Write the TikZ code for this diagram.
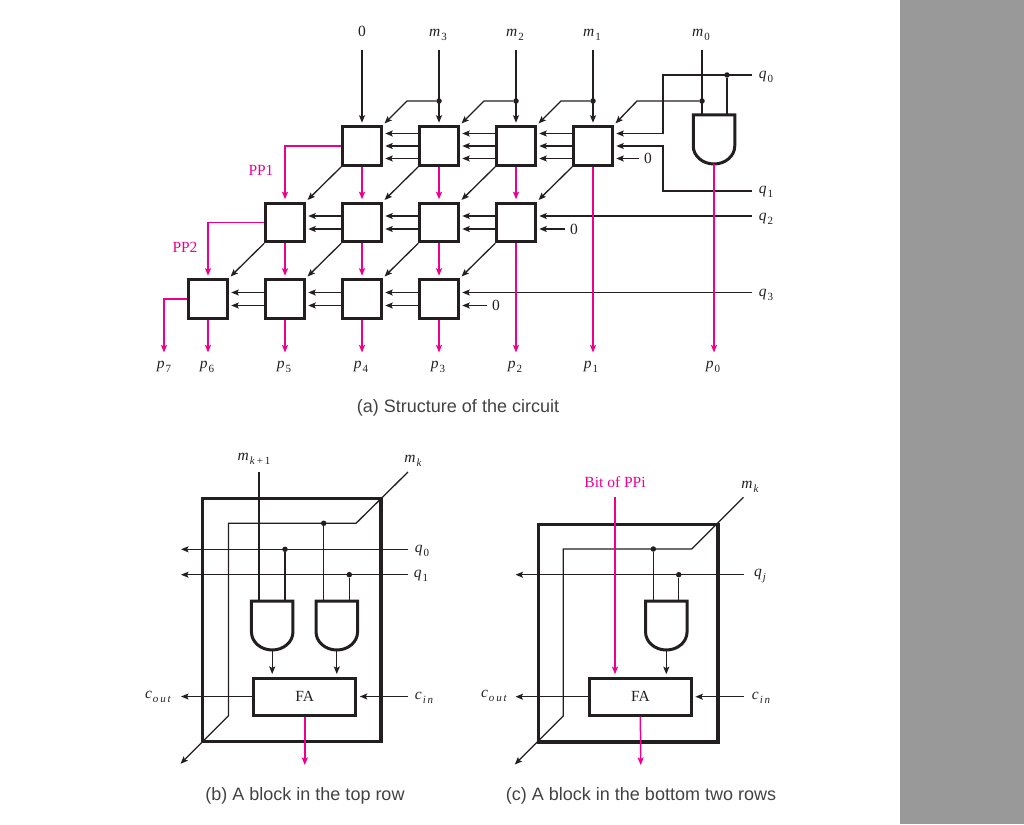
\documentclass[tikz,border=0pt]{standalone}
\usepackage{fontspec}
\setmainfont{Liberation Serif}
\setsansfont{Liberation Sans}
\usetikzlibrary{arrows.meta,calc,positioning}
\definecolor{ppink}{HTML}{EC008C}
\definecolor{inkline}{HTML}{231F20}
\tikzstyle{block} = [rectangle, minimum width=38.5pt, minimum height=38.5pt, draw=inkline, line width=3pt]
\tikzstyle{fabox} = [rectangle, minimum width=102pt, minimum height=37pt, draw=inkline, line width=3pt, text=inkline]
\tikzstyle{frame} = [rectangle, draw=inkline, line width=3.2pt]
\tikzstyle{gatebox} = [rectangle, minimum width=41.5pt, minimum height=49pt, inner sep=0pt, outer sep=0pt]
\tikzstyle{gateline} = [draw=inkline, line width=3pt, line join=miter]
\tikzstyle{dot} = [circle, fill=inkline, inner sep=0pt, minimum size=5.5pt]
\tikzstyle{arrow} = [line width=1.3pt, draw=inkline, ->, >={Stealth[length=7.5pt,width=6pt,inset=1.5pt]}, shorten >=2.5pt]
\tikzstyle{pparrow} = [line width=1.5pt, draw=ppink, ->, >={Stealth[length=7.5pt,width=6pt,inset=1.5pt]}, shorten >=2.5pt]
\tikzstyle{wire} = [line width=1.3pt, draw=inkline]
\tikzstyle{lab} = [text=inkline, inner sep=0pt]
\tikzstyle{pplab} = [text=ppink, inner sep=0pt]
\tikzstyle{caption} = [text=inkline!85, inner sep=0pt, font=\sffamily\fontsize{18}{21}\selectfont]
\newcommand{\sublab}[2]{\textit{#1}\kern1pt\raisebox{-4pt}{\fontsize{11}{11}\selectfont #2}}
\newcommand{\gateoutline}[1]{\draw [gateline] (#1.north west) -- (#1.north east) -- ++(0,-31) arc[start angle=0, end angle=-180, x radius=20.75, y radius=18] -- cycle;}
\begin{document}
\begin{tikzpicture}[x=1pt, y=1pt, node distance=77pt, font=\fontsize{15.5}{18}\selectfont]
    \useasboundingbox (0,0) rectangle (1024,-824);
    \fill [black!40] (900,0) rectangle (1024,-824);

    % (a) array of blocks
    \node (b11) [block] at (362,-146) {};
    \node (b12) [block, right of=b11] {};
    \node (b13) [block, right of=b12] {};
    \node (b14) [block, right of=b13] {};
    \node (b22) [block, below of=b11, node distance=76.5pt] {};
    \node (b21) [block, left of=b22] {};
    \node (b23) [block, right of=b22] {};
    \node (b24) [block, right of=b23] {};
    \node (b32) [block, below of=b21, node distance=76.5pt] {};
    \node (b31) [block, left of=b32] {};
    \node (b33) [block, right of=b32] {};
    \node (b34) [block, right of=b33] {};
    \node (andA) [gatebox] at (714,-139.5) {};
    \gateoutline{andA}

    % labels along the top
    \node (zeroTop) [lab] at (362,-31) {0};
    \node (m3) [lab] at (438,-35) {\sublab{m}{3}};
    \node (m2) [lab] at (515,-35) {\sublab{m}{2}};
    \node (m1) [lab] at (592,-35) {\sublab{m}{1}};
    \node (m0) [lab] at (701,-35) {\sublab{m}{0}};
    \coordinate (zeroIn) at (362,-50);
    \coordinate (m3In) at (439,-50);
    \coordinate (m2In) at (516,-50);
    \coordinate (m1In) at (593,-50);
    \coordinate (m0In) at (702,-50);
    \node (q0) [lab] at (766,-77) {\sublab{q}{0}};
    \node (q1) [lab] at (766,-192) {\sublab{q}{1}};
    \node (q2) [lab] at (766,-219) {\sublab{q}{2}};
    \node (q3) [lab] at (766,-295) {\sublab{q}{3}};
    \coordinate (q0In) at (752,-75);
    \coordinate (q1In) at (752,-191);
    \coordinate (q2In) at (752,-216);
    \coordinate (q3In) at (752,-292.5);
    \coordinate (busQ) at (663,-146);
    \node (zeroA) [lab] at (648,-158.5) {0};
    \node (zeroB) [lab] at (574,-229) {0};
    \node (zeroC) [lab] at (496,-305.5) {0};

    % m inputs
    \node (dot3) [dot] at (439,-101) {};
    \node (dot2) [dot] at (516,-101) {};
    \node (dot1) [dot] at (593,-101) {};
    \node (dot0) [dot] at (702,-101) {};
    \node (dotQ) [dot] at (727,-75) {};
    \draw [arrow] (zeroIn) -- (b11.north);
    \draw [arrow] (m3In) -- (b12.north);
    \draw [arrow] (m2In) -- (b13.north);
    \draw [arrow] (m1In) -- (b14.north);
    \draw [wire] (m0In) -- (m0In |- andA.north);
    \draw [wire] (dotQ) -- (dotQ |- andA.north);
    \draw [arrow] (dot3) -- ++(-32,0) -- (b11.north east);
    \draw [arrow] (dot2) -- ++(-32,0) -- (b12.north east);
    \draw [arrow] (dot1) -- ++(-32,0) -- (b13.north east);
    \draw [arrow] (dot0) -- ++(-65,0) -- (b14.north east);

    % q inputs and the zeros
    \draw [arrow] (q0In) -- (q0In -| busQ) |- ([yshift=12.5pt]b14.east);
    \draw [arrow] (q1In) -- (q1In -| busQ) |- (b14.east);
    \draw [arrow] (q2In) -- ([yshift=6.5pt]b24.east);
    \draw [arrow] (q3In) -- ([yshift=6.5pt]b34.east);
    \draw [arrow] ([xshift=-5pt]zeroA.west) -- ([yshift=-12.5pt]b14.east);
    \draw [arrow] ([xshift=-5pt]zeroB.west) -- ([yshift=-6.5pt]b24.east);
    \draw [arrow] ([xshift=-5pt]zeroC.west) -- ([yshift=-6.5pt]b34.east);

    % carries and sums, top row
    \draw [arrow] ([yshift=12.5pt]b14.west) -- ([yshift=12.5pt]b13.east);
    \draw [arrow] (b14.west) -- (b13.east);
    \draw [arrow] ([yshift=-12.5pt]b14.west) -- ([yshift=-12.5pt]b13.east);
    \draw [arrow] ([yshift=12.5pt]b13.west) -- ([yshift=12.5pt]b12.east);
    \draw [arrow] (b13.west) -- (b12.east);
    \draw [arrow] ([yshift=-12.5pt]b13.west) -- ([yshift=-12.5pt]b12.east);
    \draw [arrow] ([yshift=12.5pt]b12.west) -- ([yshift=12.5pt]b11.east);
    \draw [arrow] (b12.west) -- (b11.east);
    \draw [arrow] ([yshift=-12.5pt]b12.west) -- ([yshift=-12.5pt]b11.east);

    % middle and bottom rows
    \draw [arrow] ([yshift=6.5pt]b24.west) -- ([yshift=6.5pt]b23.east);
    \draw [arrow] ([yshift=-6.5pt]b24.west) -- ([yshift=-6.5pt]b23.east);
    \draw [arrow] ([yshift=6.5pt]b23.west) -- ([yshift=6.5pt]b22.east);
    \draw [arrow] ([yshift=-6.5pt]b23.west) -- ([yshift=-6.5pt]b22.east);
    \draw [arrow] ([yshift=6.5pt]b22.west) -- ([yshift=6.5pt]b21.east);
    \draw [arrow] ([yshift=-6.5pt]b22.west) -- ([yshift=-6.5pt]b21.east);
    \draw [arrow] ([yshift=6.5pt]b34.west) -- ([yshift=6.5pt]b33.east);
    \draw [arrow] ([yshift=-6.5pt]b34.west) -- ([yshift=-6.5pt]b33.east);
    \draw [arrow] ([yshift=6.5pt]b33.west) -- ([yshift=6.5pt]b32.east);
    \draw [arrow] ([yshift=-6.5pt]b33.west) -- ([yshift=-6.5pt]b32.east);
    \draw [arrow] ([yshift=6.5pt]b32.west) -- ([yshift=6.5pt]b31.east);
    \draw [arrow] ([yshift=-6.5pt]b32.west) -- ([yshift=-6.5pt]b31.east);

    % diagonals
    \draw [arrow] (b11.south west) -- (b21.north east);
    \draw [arrow] (b12.south west) -- (b22.north east);
    \draw [arrow] (b13.south west) -- (b23.north east);
    \draw [arrow] (b14.south west) -- (b24.north east);
    \draw [arrow] (b21.south west) -- (b31.north east);
    \draw [arrow] (b22.south west) -- (b32.north east);
    \draw [arrow] (b23.south west) -- (b33.north east);
    \draw [arrow] (b24.south west) -- (b34.north east);

    % partial products
    \node (pp1) [pplab] at (261,-170) {PP1};
    \node (pp2) [pplab] at (185,-247) {PP2};
    \node (p7) [lab] at (164,-367) {\sublab{p}{7}};
    \node (p6) [lab] at (207,-367) {\sublab{p}{6}};
    \node (p5) [lab] at (284,-367) {\sublab{p}{5}};
    \node (p4) [lab] at (361,-367) {\sublab{p}{4}};
    \node (p3) [lab] at (438,-367) {\sublab{p}{3}};
    \node (p2) [lab] at (515,-367) {\sublab{p}{2}};
    \node (p1) [lab] at (591,-367) {\sublab{p}{1}};
    \node (p00) [lab] at (713,-367) {\sublab{p}{0}};
    \coordinate (outRow) at (0,-355);
    \draw [pparrow] (b11.south) -- (b22.north);
    \draw [pparrow] (b12.south) -- (b23.north);
    \draw [pparrow] (b13.south) -- (b24.north);
    \draw [pparrow] (b21.south) -- (b32.north);
    \draw [pparrow] (b22.south) -- (b33.north);
    \draw [pparrow] (b23.south) -- (b34.north);
    \draw [pparrow] (b11.west) -| (b21.north);
    \draw [pparrow] (b21.west) -| (b31.north);
    \draw [pparrow] (b31.west) -| (outRow -| p7);
    \draw [pparrow] (b31.south) -- (b31.south |- outRow);
    \draw [pparrow] (b32.south) -- (b32.south |- outRow);
    \draw [pparrow] (b33.south) -- (b33.south |- outRow);
    \draw [pparrow] (b34.south) -- (b34.south |- outRow);
    \draw [pparrow] (b24.south) -- (b24.south |- outRow);
    \draw [pparrow] (b14.south) -- (b14.south |- outRow);
    \draw [pparrow] (andA.south) -- (andA.south |- outRow);
    \node (capA) [caption] at (458,-408) {(a) Structure of the circuit};

    % (b) block in the top row
    \node (frameB) [frame, minimum width=178.5pt, minimum height=243pt] at (291.7,-620) {};
    \node (faB) [fabox] at (304.8,-696.5) {FA};
    \node (andB) [gatebox] at (272.2,-625.5) {};
    \node (andC) [gatebox] at (336.8,-625.5) {};
    \gateoutline{andB}
    \gateoutline{andC}
    \node (mkk) [lab] at (254,-459) {\sublab{m}{\textit{k}\,+\,1}};
    \node (mkB) [lab] at (413,-461) {\sublab{m}{\textit{k}}};
    \node (q0B) [lab] at (422,-551) {\sublab{q}{0}};
    \node (q1B) [lab] at (421,-576) {\sublab{q}{1}};
    \node (coutB) [lab] at (158,-697) {\sublab{c}{\textit{o\,u\,t}}};
    \node (cinB) [lab] at (424,-698) {\sublab{c}{\textit{i\,n}}};
    \coordinate (mkkIn) at (259,-472);
    \coordinate (mkBIn) at (408,-472);
    \coordinate (q0BIn) at (408,-549.3);
    \coordinate (q1BIn) at (408,-574.7);
    \coordinate (leftB) at (181,-549.3);
    \coordinate (cinBIn) at (408,-696.5);
    \coordinate (faBOut) at (304,-765);
    \node (dotB0) [dot] at (285,-549.3) {};
    \node (dotB1) [dot] at (349.3,-574.7) {};
    \node (dotBk) [dot] at (323.7,-523.3) {};
    \draw [arrow, shorten >=0pt] (mkBIn) -- ++(-52,-51.3) -- ++(-127.5,0) -- ++(0,-192.5) -- ++(-48,-48);
    \draw [arrow, shorten >=0pt] (q0BIn) -- (leftB);
    \draw [arrow, shorten >=0pt] (q1BIn) -- (q1BIn -| leftB);
    \draw [wire] (mkkIn) -- (mkkIn |- andB.north);
    \draw [wire] (dotB0) -- (dotB0 |- andB.north);
    \draw [wire] (dotBk) -- (dotBk |- andC.north);
    \draw [wire] (dotB1) -- (dotB1 |- andC.north);
    \draw [arrow] (andB.south) -- (andB.south |- faB.north);
    \draw [arrow] (andC.south) -- (andC.south |- faB.north);
    \draw [arrow, shorten >=0pt] (faB.west) -- (faB.west -| leftB);
    \draw [arrow] (cinBIn) -- (faB.east);
    \draw [pparrow, shorten >=0pt] (faB.south) -- (faB.south |- faBOut);
    \node (capB) [caption] at (305,-796) {(b) A block in the top row};

    % (c) block in the bottom two rows
    \node (frameC) [frame, minimum width=179.5pt, minimum height=217.5pt] at (628.3,-633.2) {};
    \node (faC) [fabox] at (640.4,-696.7) {FA};
    \node (andD) [gatebox] at (666.3,-625.5) {};
    \gateoutline{andD}
    \node (bitC) [pplab] at (615,-482) {Bit of PPi};
    \node (mkC) [lab] at (750,-487) {\sublab{m}{\textit{k}}};
    \node (qjC) [lab] at (760,-576) {\sublab{q}{\textit{j}}};
    \node (coutC) [lab] at (494,-696) {\sublab{c}{\textit{o\,u\,t}}};
    \node (cinC) [lab] at (761,-698) {\sublab{c}{\textit{i\,n}}};
    \coordinate (bitCIn) at (615,-497.3);
    \coordinate (mkCIn) at (743.5,-497.3);
    \coordinate (qjCIn) at (743.5,-574.7);
    \coordinate (leftC) at (515.5,-574.7);
    \coordinate (cinCIn) at (744,-696.7);
    \coordinate (faCOut) at (640.7,-765);
    \node (dotCk) [dot] at (653.3,-549) {};
    \node (dotCj) [dot] at (678.7,-574.7) {};
    \draw [arrow, shorten >=0pt] (mkCIn) -- ++(-51.8,-51.7) -- ++(-128.4,0) -- ++(0,-167) -- ++(-48.5,-48.5);
    \draw [arrow, shorten >=0pt] (qjCIn) -- (leftC);
    \draw [wire] (dotCk) -- (dotCk |- andD.north);
    \draw [wire] (dotCj) -- (dotCj |- andD.north);
    \draw [pparrow] (bitCIn) -- (bitCIn |- faC.north);
    \draw [arrow] (andD.south) -- (andD.south |- faC.north);
    \draw [arrow, shorten >=0pt] (faC.west) -- (faC.west -| leftC);
    \draw [arrow] (cinCIn) -- (faC.east);
    \draw [pparrow, shorten >=0pt] (faC.south) -- (faCOut);
    \node (capC) [caption] at (641,-796) {(c) A block in the bottom two rows};
\end{tikzpicture}
\end{document}
